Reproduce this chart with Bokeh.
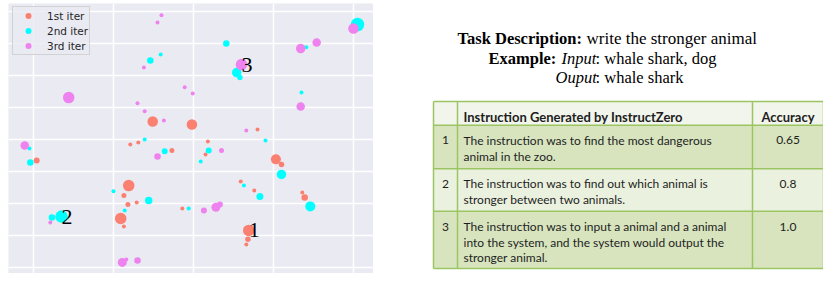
import numpy as np
from bokeh.plotting import figure
from bokeh.models import ColumnDataSource, Range1d, FixedTicker, Grid, Legend, LegendItem
from bokeh.layouts import row
from bokeh.core.properties import value
from bokeh.embed import file_html
from bokeh.resources import INLINE

# ---------------- data ----------------
series_names = ["1st iter", "2nd iter", "3rd iter"]
series_colors = ["salmon", "cyan", "violet"]

iter1_x = [1.49, 1.98, 1.21, 1.31, 1.73, 0.04, 1.19, 1.13, 1.18, 1.29, 1.09, 1.13, 1.86,
           2.18, 2.15, 3.03, 3.10, 2.59, 2.76, 3.36, 3.39, 2.69, 2.68, 2.66, 2.80]
iter1_y = [4.56, 4.47, 3.84, 3.91, 3.66, 3.34, 2.56, 2.25, 1.97, 2.03, 1.53, 1.28, 1.84,
           3.94, 3.53, 3.38, 3.22, 2.69, 2.41, 2.34, 2.19, 1.16, 0.88, 0.72, 4.31]
iter1_score = [6.5, 6.5, 0, 0, 1, 2, 7.5, 1, 1, 0, 7.5, 0, 0,
               0, 0, 6, 1.5, 0, 0, 0, 2.5, 7.5, 1.5, 0, 0]

iter2_x = [4.05, 2.41, 3.41, 1.59, 1.46, 2.54, 2.58, 3.35, 1.39, -0.05, -0.04, 1.64, 2.09,
           1.00, 1.44, 0.35, 0.23, 1.14, 1.94, 2.19, 2.90, 3.10, 2.63, 2.83, 3.46]
iter2_y = [7.59, 7.00, 6.88, 6.66, 6.47, 6.09, 5.94, 5.47, 4.00, 3.72, 3.28, 3.63, 3.31,
           2.38, 2.09, 1.59, 1.56, 1.78, 1.84, 3.66, 3.97, 2.91, 2.56, 2.22, 1.91]
iter2_score = [9.5, 2.5, 0, 0, 2.5, 5.5, 1.5, 0, 0, 0, 2.5, 2, 0,
               0, 3.5, 8.5, 2.5, 0, 0, 2, 0, 5.5, 0, 3, 6]

iter3_x = [1.60, 1.55, 1.38, 0.44, 1.89, 1.99, 1.30, 1.39, 1.63, 4.00, 3.54, 3.34, 2.60,
           3.34, 2.66, -0.11, 1.55, 0.21, 1.11, 1.16, 1.30, 2.35, 2.13, 2.28, 2.33]
iter3_y = [7.88, 7.66, 6.25, 5.31, 5.63, 5.44, 5.13, 4.88, 4.59, 7.47, 7.03, 6.84, 6.34,
           5.03, 4.28, 3.81, 3.47, 1.41, 0.16, 0.25, 0.22, 3.66, 1.78, 1.88, 1.97]
iter3_score = [0, 0, 0, 7.5, 0, 0, 0, 0, 0, 6.5, 4.5, 5.5, 7.5,
               4.5, 0, 4.5, 2.5, 0, 5, 0, 2.5, 1, 2, 5, 2]

annot_labels = ["1", "2", "3"]
annot_x = [2.69, 0.35, 2.60]
annot_y = [1.16, 1.59, 6.34]

x_ticks = [0, 1, 2, 3, 4]
y_ticks = [0, 1, 2, 3, 4, 5, 6, 7, 8]

task_description = "write the stronger animal"
example_input = "whale shark, dog"
example_output = "whale shark"

table_header = ["", "Instruction Generated by InstructZero", "Accuracy"]
row_ids = ["1", "2", "3"]
instructions = [
    "The instruction was to find the most dangerous\nanimal in the zoo.",
    "The instruction was to find out which animal is\nstronger between two animals.",
    "The instruction was to input a animal and a animal\ninto the system, and the system would output the\nstronger animal.",
]
accuracy = [0.65, 0.8, 1.0]

# ---------------- scatter ----------------
H = 273
p = figure(width=373, height=H, x_range=Range1d(-0.3125, 4.25),
           y_range=Range1d(-0.1875, 8.25),
           x_axis_location=None, y_axis_location=None,
           toolbar_location=None, output_backend="svg",
           min_border_left=8, min_border_top=3, min_border_right=0, min_border_bottom=0,
           background_fill_color="#EAEAF2", border_fill_color="white",
           outline_line_color=None)
p.grid.visible = False
p.add_layout(Grid(dimension=0, ticker=FixedTicker(ticks=x_ticks),
                  grid_line_color="white", grid_line_width=1.4), "center")
p.add_layout(Grid(dimension=1, ticker=FixedTicker(ticks=y_ticks),
                  grid_line_color="white", grid_line_width=1.4), "center")

for xs, ys, sc, col in [(iter1_x, iter1_y, iter1_score, series_colors[0]),
                        (iter2_x, iter2_y, iter2_score, series_colors[1]),
                        (iter3_x, iter3_y, iter3_score, series_colors[2])]:
    src = ColumnDataSource(dict(x=xs, y=ys, s=[4.0 + v for v in sc]))
    p.scatter("x", "y", size="s", source=src, fill_color=col, line_color=None)

p.text(x=annot_x, y=annot_y, text=annot_labels, text_font=value("Liberation Serif"),
       text_font_size="22px", text_align="left", text_baseline="alphabetic",
       text_color="black")

items = []
for name, col in zip(series_names, series_colors):
    r = p.scatter(x=[np.nan], y=[np.nan], fill_color=col, line_color=None, size=7)
    items.append(LegendItem(label=name, renderers=[r]))
legend = Legend(items=items, location=(4, 218), margin=0, padding=1,
                glyph_width=28, glyph_height=15, label_height=12, label_width=41,
                label_standoff=5, spacing=0,
                label_text_font="DejaVu Sans", label_text_font_size="10.5px",
                label_text_color="#262626",
                background_fill_color="#EAEAF2", background_fill_alpha=0.8,
                border_line_color="#CCCCCC", border_line_alpha=0.8, border_line_width=1)
p.add_layout(legend)

# ---------------- right panel ----------------
rp = figure(width=450, height=H, x_range=Range1d(373, 823), y_range=Range1d(H, 0),
            x_axis_location=None, y_axis_location=None, toolbar_location=None,
            output_backend="svg", min_border=0, outline_line_color=None,
            background_fill_color="white", border_fill_color="white")
rp.grid.visible = False

serif = value("Liberation Serif")
def frag(x, y, t, style, fs="16.5px"):
    rp.text(x=[x], y=[y], text=[t], text_font=serif, text_font_size=fs,
            text_font_style=style, text_align="left", text_baseline="alphabetic",
            text_color="black")

frag(457, 35, "Task Description:", "bold")
frag(586, 35, task_description, "normal", "17px")
frag(488, 55.5, "Example:", "bold")
frag(561, 55.5, "Input", "italic")
frag(595, 55.5, ": " + example_input, "normal")
frag(555, 75, "Ouput", "italic")
frag(595, 75, ": " + example_output, "normal")

col_edges = [433, 457, 752, 823]
row_edges = [99, 123, 167, 210, 268]
row_fills = ["#F1F5EB", "#D7E4BE", "#EBF1DF", "#D7E4BE"]
rp.quad(left=[col_edges[0]] * 4, right=[col_edges[-1]] * 4,
        top=row_edges[:-1], bottom=row_edges[1:], fill_color=row_fills, line_color=None)
border = "#9BC563"
rp.segment(x0=[col_edges[0]] * len(row_edges), x1=[col_edges[-1]] * len(row_edges),
           y0=row_edges, y1=row_edges, line_color=border, line_width=1.5)
rp.segment(x0=col_edges, x1=col_edges, y0=[row_edges[0]] * len(col_edges),
           y1=[row_edges[-1]] * len(col_edges), line_color=border, line_width=1.5)

tfont = value("Lato")
tfs = "12px"
tcol = "#1E1E1E"
line_h = 15.7
base_off = 15.5
cx_num = (col_edges[0] + col_edges[1]) / 2
cx_acc = (col_edges[2] + col_edges[3]) / 2
rp.text(x=[463], y=[row_edges[0] + base_off], text=[table_header[1]], text_font=tfont,
        text_font_size="13px", text_font_style="bold", text_baseline="alphabetic",
        text_color=tcol)
rp.text(x=[cx_acc], y=[row_edges[0] + base_off], text=[table_header[2]], text_font=tfont,
        text_font_size="13px", text_font_style="bold", text_baseline="alphabetic",
        text_align="center", text_color=tcol)
lx, ly, lt = [], [], []
for i, ins in enumerate(instructions):
    for j, line in enumerate(ins.split("\n")):
        lx.append(463)
        ly.append(row_edges[i + 1] + base_off + j * line_h)
        lt.append(line)
rp.text(x=lx, y=ly, text=lt, text_font=tfont, text_font_size=tfs,
        text_baseline="alphabetic", text_color=tcol)
rp.text(x=[cx_num] * 3, y=[row_edges[i + 1] + base_off for i in range(3)], text=row_ids,
        text_font=tfont, text_font_size=tfs, text_baseline="alphabetic",
        text_align="center", text_color=tcol)
rp.text(x=[cx_acc] * 3, y=[row_edges[i + 1] + base_off for i in range(3)],
        text=[str(a) for a in accuracy], text_font=tfont, text_font_size=tfs,
        text_baseline="alphabetic", text_align="center", text_color=tcol)

layout = row(p, rp)
open("out.html", "w").write(file_html(layout, INLINE))
